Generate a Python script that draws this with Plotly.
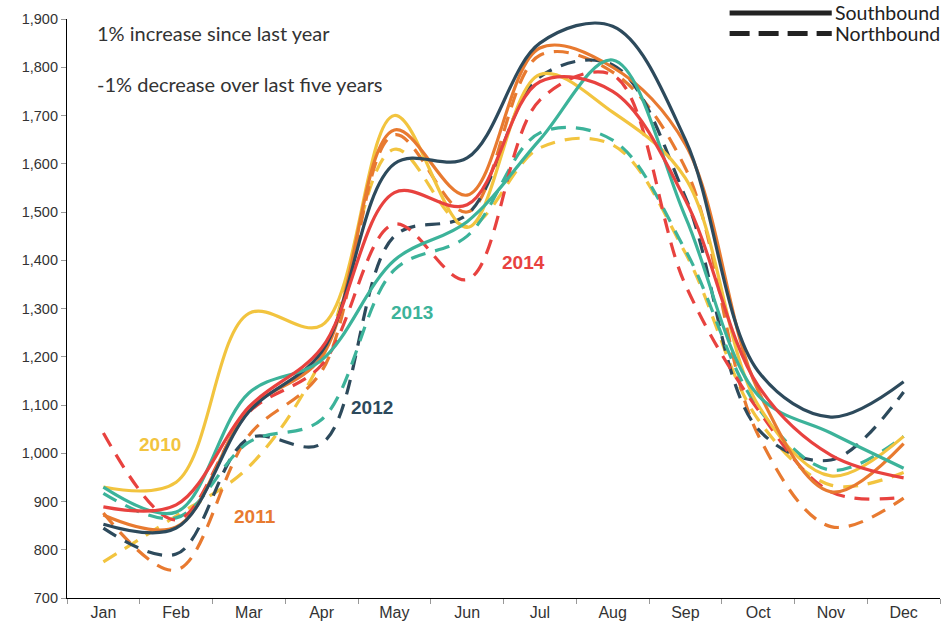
import plotly.graph_objects as go

months = ["Jan", "Feb", "Mar", "Apr", "May", "Jun", "Jul", "Aug", "Sep", "Oct", "Nov", "Dec"]
years = ["2010", "2011", "2012", "2013", "2014"]

south_2010 = [930, 940, 1290, 1265, 1700, 1468, 1785, 1707, 1570, 1100, 953, 1035]
south_2011 = [872, 847, 1090, 1200, 1670, 1535, 1840, 1800, 1640, 1130, 920, 1020]
south_2012 = [853, 845, 1086, 1210, 1600, 1612, 1850, 1885, 1650, 1170, 1075, 1148]
south_2013 = [930, 878, 1125, 1193, 1400, 1480, 1650, 1815, 1490, 1120, 1042, 969]
south_2014 = [889, 893, 1096, 1218, 1540, 1515, 1770, 1750, 1525, 1140, 996, 949]

north_2010 = [775, 870, 972, 1195, 1630, 1470, 1633, 1639, 1415, 1070, 934, 960]
north_2011 = [876, 758, 1037, 1170, 1660, 1500, 1825, 1790, 1591, 1038, 848, 907]
north_2012 = [845, 791, 1031, 1020, 1450, 1495, 1780, 1805, 1531, 1050, 986, 1127]
north_2013 = [917, 866, 1023, 1070, 1380, 1450, 1664, 1649, 1421, 1094, 965, 1035]
north_2014 = [1042, 862, 1085, 1183, 1475, 1360, 1732, 1784, 1349, 1090, 920, 909]

yticks = [700, 800, 900, 1000, 1100, 1200, 1300, 1400, 1500, 1600, 1700, 1800, 1900]

colors = {"2010": "#f2c43f", "2011": "#e87a30", "2012": "#2d4a5c", "2013": "#3cb39a", "2014": "#e8423f"}

south = {"2010": south_2010, "2011": south_2011, "2012": south_2012, "2013": south_2013, "2014": south_2014}
north = {"2010": north_2010, "2011": north_2011, "2012": north_2012, "2013": north_2013, "2014": north_2014}

DASH = "15px,10px"

fig = go.Figure()
for y in years:
    fig.add_trace(go.Scatter(x=months, y=north[y], mode="lines", name=y + " Northbound",
                             line=dict(color=colors[y], width=3.2, shape="spline", dash=DASH),
                             showlegend=False, hoverinfo="skip"))
for y in years:
    fig.add_trace(go.Scatter(x=months, y=south[y], mode="lines", name=y + " Southbound",
                             line=dict(color=colors[y], width=3.2, shape="spline"),
                             showlegend=False, hoverinfo="skip"))

label_pos = {"2010": ("Feb", 1019, -0.22), "2011": ("Mar", 868, 0.08),
             "2012": ("May", 1094, -0.31), "2013": ("May", 1291, 0.24), "2014": ("Jul", 1396, -0.23)}
for y, (mx, my, off) in label_pos.items():
    fig.add_annotation(x=months.index(mx) + off, y=my, text="<b>" + y + "</b>", showarrow=False,
                       font=dict(family="Liberation Sans, Arial", size=19, color=colors[y]))

TXT = "Lato"
fig.add_annotation(xref="paper", yref="paper", x=0.032, y=0.976, xanchor="left", yanchor="middle",
                   text="1% increase since last year", showarrow=False,
                   font=dict(family=TXT, size=20, color="#333333"))
fig.add_annotation(xref="paper", yref="paper", x=0.032, y=0.888, xanchor="left", yanchor="middle",
                   text="-1% decrease over last five years", showarrow=False,
                   font=dict(family=TXT, size=20, color="#333333"))

# custom legend (line samples)
fig.add_shape(type="line", xref="paper", yref="paper", x0=0.759, x1=0.876, y0=1.0104, y1=1.0104,
              line=dict(color="#222222", width=5))
fig.add_shape(type="line", xref="paper", yref="paper", x0=0.759, x1=0.876, y0=0.975, y1=0.975,
              line=dict(color="#222222", width=5, dash="20px,9px"))
fig.add_annotation(xref="paper", yref="paper", x=0.877, y=1.0104, xanchor="left", yanchor="middle",
                   text="Southbound", showarrow=False, font=dict(family=TXT, size=19.5, color="#222222"))
fig.add_annotation(xref="paper", yref="paper", x=0.877, y=0.975, xanchor="left", yanchor="middle",
                   text="Northbound", showarrow=False, font=dict(family=TXT, size=19.5, color="#222222"))

fig.update_layout(
    width=949, height=631,
    margin=dict(l=67, r=9, t=19, b=33),
    paper_bgcolor="white", plot_bgcolor="white",
    font=dict(family="Liberation Sans, Arial", size=14, color="#333333"),
    showlegend=False,
)
fig.update_xaxes(type="category", categoryorder="array", categoryarray=months, range=[-0.5, 11.5],
                 tickson="boundaries", ticks="outside", ticklen=5, tickcolor="#999999",
                 showline=True, linecolor="#000000", linewidth=1.2, showgrid=False, zeroline=False,
                 tickfont=dict(size=16, color="#333333"), automargin=False)
fig.update_yaxes(range=[700, 1900], tickvals=yticks, tickformat=",", ticks="outside", ticklen=5,
                 tickcolor="#999999", showline=True, linecolor="#000000", linewidth=1.2,
                 showgrid=False, zeroline=False, tickfont=dict(size=14.5, color="#333333"), automargin=False)

fig.write_html("out.html", config={"displayModeBar": False},
               post_script="document.body.style.margin='0';document.body.style.overflow='hidden';")
